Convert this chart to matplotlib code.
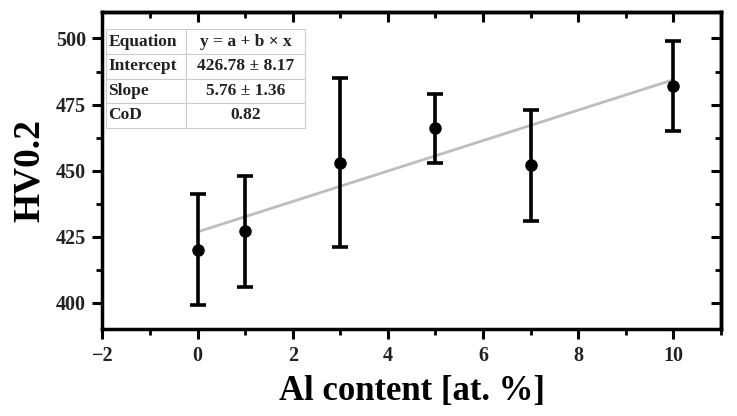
import numpy as np
import matplotlib
matplotlib.use("Agg")
import matplotlib.pyplot as plt
from matplotlib.ticker import MultipleLocator

# data
al_content = [0, 1, 3, 5, 7, 10]
hardness = [420, 427, 453, 466, 452, 482]
hardness_err = [21, 21, 32, 13, 21, 17]

# linear fit as given in the table
intercept = 426.78
slope = 5.76
table_rows = [
    ["Equation", "y = a + b \u00d7 x"],
    ["Intercept", "426.78 \u00b1 8.17"],
    ["Slope", "5.76 \u00b1 1.36"],
    ["CoD", "0.82"],
]

plt.rcParams['font.family'] = ['Liberation Serif', 'DejaVu Serif']

fig = plt.figure(figsize=(7.37, 4.16), dpi=100)
ax = fig.add_axes([0.139, 0.209, 0.839, 0.762])

# fit line
xfit = np.array([min(al_content), max(al_content)])
ax.plot(xfit, intercept + slope * xfit, color='#bdbdbd', lw=2, zorder=1)

ax.errorbar(al_content, hardness, yerr=hardness_err, fmt='o', color='black',
            ms=8, elinewidth=2.6, capsize=6, capthick=2.6, zorder=2)

ax.set_xlim(-2, 11)
ax.set_ylim(390, 510)
ax.xaxis.set_major_locator(MultipleLocator(2))
ax.xaxis.set_minor_locator(MultipleLocator(1))
ax.yaxis.set_major_locator(MultipleLocator(25))
ax.yaxis.set_minor_locator(MultipleLocator(12.5))

for s in ax.spines.values():
    s.set_linewidth(2.5)

ax.tick_params(which='major', direction='out', length=7, width=2.2,
               labelsize=14.5, pad=5, labelcolor='#222222')
ax.tick_params(which='minor', direction='out', length=4, width=2)
for lab in ax.get_xticklabels() + ax.get_yticklabels():
    lab.set_fontweight('bold')

# top and right ticks point inward
top = ax.secondary_xaxis('top')
top.xaxis.set_major_locator(MultipleLocator(2))
top.xaxis.set_minor_locator(MultipleLocator(1))
top.tick_params(which='major', direction='in', length=7, width=2.2, labeltop=False)
top.tick_params(which='minor', direction='in', length=4, width=2)
right = ax.secondary_yaxis('right')
right.yaxis.set_major_locator(MultipleLocator(25))
right.yaxis.set_minor_locator(MultipleLocator(12.5))
right.tick_params(which='major', direction='in', length=7, width=2.2, labelright=False)
right.tick_params(which='minor', direction='in', length=4, width=2)
top.spines['top'].set_linewidth(2.5)
right.spines['right'].set_linewidth(2.5)

ax.set_xlabel('Al content [at. %]', fontsize=25, fontweight='bold', labelpad=7)
ax.set_ylabel('HV0.2', fontsize=27, fontweight='bold', labelpad=6)

tbl = ax.table(cellText=table_rows, cellLoc='center',
               bbox=[0.006, 0.635, 0.322, 0.31], colWidths=[0.4, 0.6])
tbl.auto_set_font_size(False)
for (r, c), cell in tbl.get_celld().items():
    cell.set_edgecolor('#cccccc')
    cell.set_linewidth(0.8)
    cell.get_text().set_fontsize(12.5)
    cell.get_text().set_fontweight('bold')
    cell.get_text().set_color('#222222')
    if c == 0:
        cell.get_text().set_ha('left')
        cell.PAD = 0.03

fig.savefig('out.png', dpi=100)
